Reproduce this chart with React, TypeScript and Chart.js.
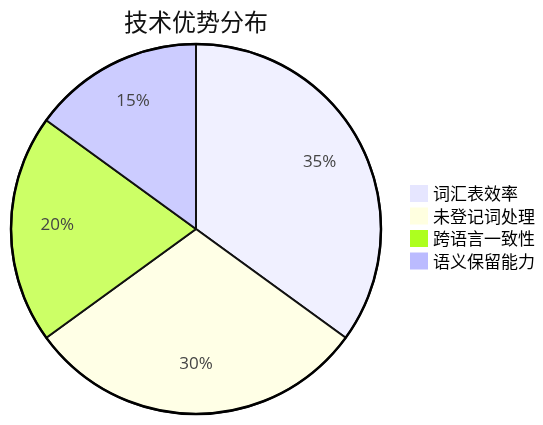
import { useEffect, useRef } from 'react';
import { Chart, registerables, type Plugin } from 'chart.js';

Chart.register(...registerables);

const titleText = '技术优势分布';
const categories = ['词汇表效率', '未登记词处理', '跨语言一致性', '语义保留能力'];
const shares = [35, 30, 20, 15];
const sliceColors = ['#f0f0ff', '#ffffe6', '#ccff66', '#ccccff'];
const legendColors = ['#e6e6ff', '#ffffe0', '#adff1f', '#bbbbff'];

const FONT = '"Noto Sans CJK SC", "Noto Sans", sans-serif';

// percentage labels inside slices, outer ring, title and legend
const decorPlugin: Plugin<'pie'> = {
  id: 'decor',
  afterDatasetsDraw(chart) {
    const { ctx } = chart;
    const meta = chart.getDatasetMeta(0);
    ctx.save();
    const first = meta.data[0] as any;
    if (first) {
      ctx.beginPath();
      ctx.arc(first.x, first.y, first.outerRadius, 0, Math.PI * 2);
      ctx.lineWidth = 2.5;
      ctx.strokeStyle = '#000';
      ctx.stroke();
    }
    ctx.font = '17px "Open Sans", sans-serif';
    ctx.fillStyle = '#444';
    ctx.textAlign = 'center';
    ctx.textBaseline = 'middle';
    meta.data.forEach((el: any, i) => {
      const mid = (el.startAngle + el.endAngle) / 2;
      const r = el.outerRadius * 0.75;
      ctx.fillText(`${shares[i]}%`, el.x + Math.cos(mid) * r, el.y + Math.sin(mid) * r - 4);
    });
    if (first) {
      ctx.font = `24px ${FONT}`;
      ctx.fillStyle = '#111';
      ctx.fillText(titleText, first.x, 22);
    }
    const lx = 410;
    const ly = 193;
    ctx.font = `17px ${FONT}`;
    ctx.textAlign = 'left';
    categories.forEach((name, i) => {
      const y = ly + i * 22.5;
      ctx.fillStyle = legendColors[i];
      ctx.fillRect(lx, y - 8, 18, 17);
      ctx.fillStyle = '#000';
      ctx.fillText(name, lx + 23, y + 1);
    });
    ctx.restore();
  },
};

export default function App() {
  const canvasRef = useRef<HTMLCanvasElement>(null);

  useEffect(() => {
    if (canvasRef.current === null) return undefined;
    const chart = new Chart(canvasRef.current, {
      type: 'pie',
      data: {
        labels: categories,
        datasets: [
          {
            data: shares,
            backgroundColor: sliceColors,
            borderColor: '#111',
            borderWidth: 2,
          },
        ],
      },
      options: {
        responsive: false,
        animation: false,
        layout: { padding: { left: 10, right: 161, top: 43, bottom: 10 } },
        plugins: {
          legend: { display: false },
          title: { display: false },
          tooltip: { enabled: false },
        },
      },
      plugins: [decorPlugin],
    });
    return () => { chart.destroy(); };
  }, []);

  return (
    <div style={{ position: 'fixed', left: 0, top: 0, width: 543, height: 425, background: '#fff' }}>
      <canvas ref={canvasRef} width={543} height={425} />
    </div>
  );
}
